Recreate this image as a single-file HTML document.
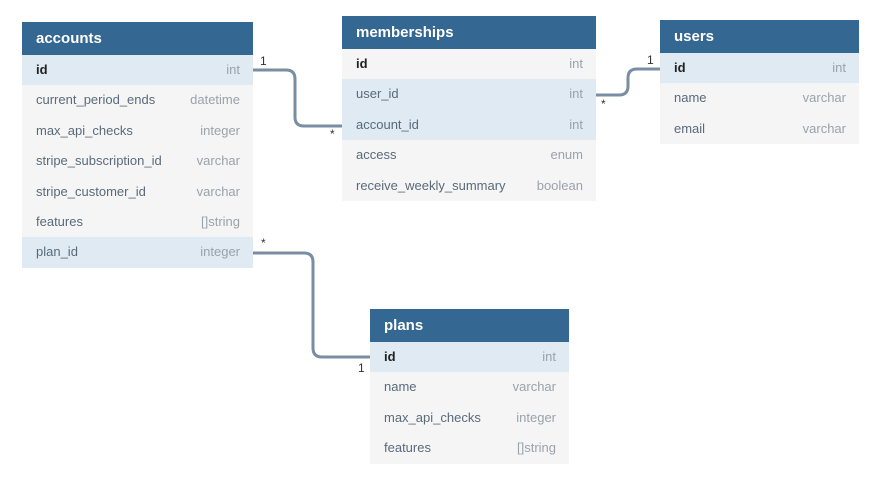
<!DOCTYPE html>
<html><head><style>
body{margin:0;width:880px;height:479px;background:#fff;position:relative;overflow:hidden;font-family:"Liberation Sans",sans-serif;}
.t{position:absolute;background:#f5f5f5;}
.h{background:#346791;color:#fff;font-weight:bold;font-size:15px;height:33px;line-height:33px;padding-left:14px;}
.r{height:30.4px;line-height:30.4px;font-size:13px;color:#5a6a7a;padding:0 13px 0 14px;display:flex;justify-content:space-between;}
.r span:last-child{color:#9aa2aa;}
.hl{background:#dfeaf2;}
.pk span:first-child{font-weight:bold;color:#222;}
.lb{position:absolute;font-size:12px;color:#333;}
svg{position:absolute;left:0;top:0;}
</style></head><body>
<svg width="880" height="479"><g fill="none" stroke="#7a8ea3" stroke-width="3">
<path d="M253 70 H286 Q295 70 295 79 V117 Q295 126 304 126 H342"/>
<path d="M596 95 H619 Q628 95 628 86 V78 Q628 69 637 69 H660"/>
<path d="M253 253 H304 Q313 253 313 262 V348 Q313 357 322 357 H370"/>
</g></svg>
<div class="t" style="left:22px;top:22px;width:231px">
<div class="h">accounts</div>
<div class="r hl pk"><span>id</span><span>int</span></div>
<div class="r"><span>current_period_ends</span><span>datetime</span></div>
<div class="r"><span>max_api_checks</span><span>integer</span></div>
<div class="r"><span>stripe_subscription_id</span><span>varchar</span></div>
<div class="r"><span>stripe_customer_id</span><span>varchar</span></div>
<div class="r"><span>features</span><span>[]string</span></div>
<div class="r hl"><span>plan_id</span><span>integer</span></div>
</div>
<div class="t" style="left:342px;top:16px;width:254px">
<div class="h">memberships</div>
<div class="r pk"><span>id</span><span>int</span></div>
<div class="r hl"><span>user_id</span><span>int</span></div>
<div class="r hl"><span>account_id</span><span>int</span></div>
<div class="r"><span>access</span><span>enum</span></div>
<div class="r"><span>receive_weekly_summary</span><span>boolean</span></div>
</div>
<div class="t" style="left:660px;top:20px;width:199px">
<div class="h">users</div>
<div class="r hl pk"><span>id</span><span>int</span></div>
<div class="r"><span>name</span><span>varchar</span></div>
<div class="r"><span>email</span><span>varchar</span></div>
</div>
<div class="t" style="left:370px;top:309px;width:199px">
<div class="h">plans</div>
<div class="r hl pk"><span>id</span><span>int</span></div>
<div class="r"><span>name</span><span>varchar</span></div>
<div class="r"><span>max_api_checks</span><span>integer</span></div>
<div class="r"><span>features</span><span>[]string</span></div>
</div>
<div class="lb" style="left:260px;top:54px">1</div>
<div class="lb" style="left:330px;top:127px">*</div>
<div class="lb" style="left:601px;top:97px">*</div>
<div class="lb" style="left:647px;top:53px">1</div>
<div class="lb" style="left:261px;top:236px">*</div>
<div class="lb" style="left:358px;top:361px">1</div>
</body></html>
